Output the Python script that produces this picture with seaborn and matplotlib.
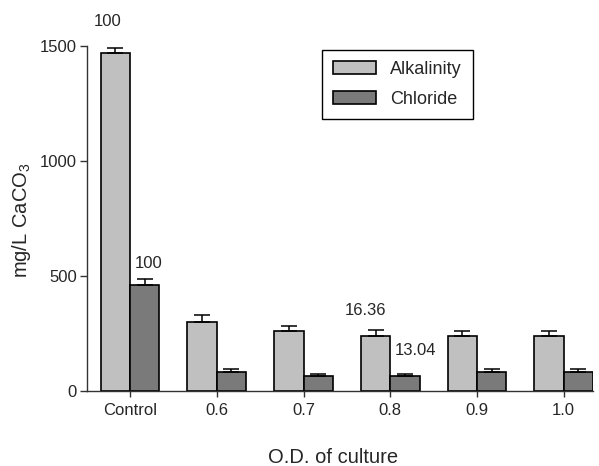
import numpy as np
import pandas as pd
import matplotlib
matplotlib.use("Agg")
import matplotlib.pyplot as plt
import seaborn as sns

# data
categories = ["Control", "0.6", "0.7", "0.8", "0.9", "1.0"]
alkalinity = [1470, 302, 262, 241, 241, 241]
alkalinity_err = [20, 27, 19, 24, 21, 21]
chloride = [460, 84, 65, 65, 84, 84]
chloride_err = [25, 13, 10, 10, 13, 13]

# percentage labels
labels_txt = ["100", "100", "16.36", "13.04"]
labels_x = [-0.254, 0.213, 2.72, 3.297]
labels_y = [1608, 556, 352, 174]

sns.set_style("ticks")
plt.rcParams["font.family"] = ["Liberation Sans", "DejaVu Sans"]
plt.rcParams["mathtext.fontset"] = "custom"
plt.rcParams["mathtext.rm"] = "Liberation Sans"

df = pd.DataFrame({
    "od": categories * 2,
    "value": alkalinity + chloride,
    "series": ["Alkalinity"] * len(categories) + ["Chloride"] * len(categories),
})

fig = plt.figure(figsize=(5.99, 4.66), dpi=100)
ax = fig.add_axes([0.1447, 0.161, 0.8453, 0.740])

sns.barplot(data=df, x="od", y="value", hue="series", order=categories,
            palette=["#c0c0c0", "#7a7a7a"], edgecolor="black", linewidth=1.2,
            width=0.675, errorbar=None, saturation=1, ax=ax)

# upper error bars only
for cont, errs in zip(ax.containers, [alkalinity_err, chloride_err]):
    xs = [p.get_x() + p.get_width() / 2 for p in cont.patches]
    hs = [p.get_height() for p in cont.patches]
    ax.errorbar(xs, hs, yerr=[np.zeros(len(errs)), errs], fmt="none",
                ecolor="black", elinewidth=1.1, capsize=5.6, capthick=1.1, zorder=1)

for t, x, y in zip(labels_txt, labels_x, labels_y):
    ax.text(x, y, t, ha="center", va="center", fontsize=12, clip_on=False)

ax.set_xlim(-0.5, 5.338)
ax.set_ylim(0, 1500)
ax.set_yticks([0, 500, 1000, 1500])
sns.despine(ax=ax)
for s in ["left", "bottom"]:
    ax.spines[s].set_linewidth(1.0)
    ax.spines[s].set_color("#333333")
ax.tick_params(axis="y", labelsize=12, length=5, width=1.0, color="#333333", pad=2)
ax.tick_params(axis="x", labelsize=12, length=4.3, width=1.0, color="#333333", pad=4)

ax.set_xlabel("O.D. of culture", fontsize=14.5)
ax.set_ylabel("mg/L CaCO$_3$", fontsize=14.5)
ax.xaxis.set_label_coords(0.486, -0.165)
ax.yaxis.set_label_coords(-0.106, 0.496)
ax.xaxis.label.set_va("top")

handles, labs = ax.get_legend_handles_labels()
leg = ax.legend(handles, labs, loc="upper left", bbox_to_anchor=(0.464, 0.990),
                borderaxespad=0, fontsize=13, handlelength=2.38, handleheight=0.74,
                handletextpad=0.78, labelspacing=0.72, borderpad=0.62,
                fancybox=False, edgecolor="black", framealpha=1)
leg.get_frame().set_linewidth(1.0)

fig.savefig("out.png", dpi=100)
